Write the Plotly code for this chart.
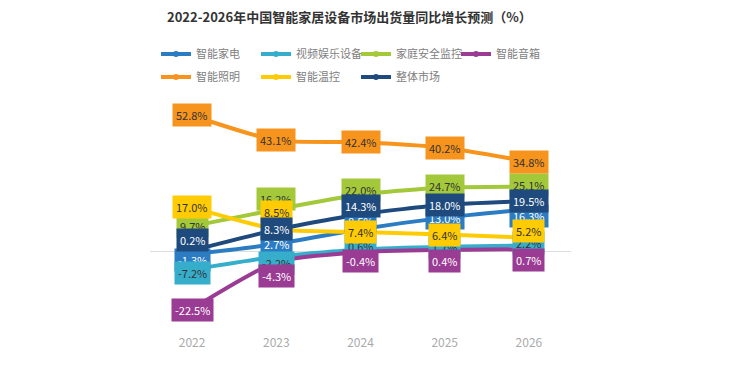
import plotly.graph_objects as go

years = ["2022", "2023", "2024", "2025", "2026"]
series_names = ["智能家电", "视频娱乐设备", "家庭安全监控", "智能音箱", "智能照明", "智能温控", "整体市场"]
s_appliance = [-1.3, 2.7, 8.5, 13.0, 16.3]
s_video = [-7.2, -2.2, 0.6, 1.7, 2.2]
s_security = [9.7, 16.2, 22.0, 24.7, 25.1]
s_speaker = [-22.5, -4.3, -0.4, 0.4, 0.7]
s_lighting = [52.8, 43.1, 42.4, 40.2, 34.8]
s_thermo = [17.0, 8.5, 7.4, 6.4, 5.2]
s_total = [0.2, 8.3, 14.3, 18.0, 19.5]
values = [s_appliance, s_video, s_security, s_speaker, s_lighting, s_thermo, s_total]

colors = ["#2b7cc3", "#36aecb", "#a3c83a", "#9a3b94", "#f7941d", "#ffcb05", "#1e4a7e"]
text_colors = ["#ffffff", "#333333", "#333333", "#ffffff", "#333333", "#333333", "#ffffff"]
legend_ids = ["legend", "legend", "legend", "legend", "legend2", "legend2", "legend2"]
# label pixel offsets (to avoid overlap), positive = up
label_shift = [
    [-6, 0, 8, 0, -7],
    [-4, -6, 3, 0, 2],
    [0, 10, 5, 2, 2],
    [-1, -14, -9, -11, -11],
    [0, 0, 0, 0, 0],
    [0, 17, 0, 0, 7],
    [10, 1, 8, 0, 0],
]

fig = go.Figure()
for name, vals, c, lg in zip(series_names, values, colors, legend_ids):
    fig.add_trace(go.Scatter(
        x=years, y=vals, name=name, mode="lines+markers", legend=lg,
        line=dict(color=c, width=4, shape="spline", smoothing=0.6),
        marker=dict(color=c, size=6),
    ))

for vals, c, tc, shifts in zip(values, colors, text_colors, label_shift):
    for i, (v, sh) in enumerate(zip(vals, shifts)):
        fig.add_annotation(
            x=i, y=v, xref="x", yref="y", text=f"{v:.1f}%", showarrow=False, yshift=sh,
            bgcolor=c, borderpad=3,
            font=dict(size=11, color=tc, family="Noto Sans CJK SC"),
        )

legend_common = dict(orientation="h", xref="container", yref="container",
                     xanchor="left", yanchor="middle",
                     entrywidth=55, entrywidthmode="pixels",
                     font=dict(size=11, color="#808080"), itemwidth=30,
                     bgcolor="rgba(0,0,0,0)")

fig.update_layout(
    width=745, height=369,
    margin=dict(l=142, r=182, t=89, b=49, autoexpand=False),
    paper_bgcolor="white", plot_bgcolor="white",
    font=dict(family="Noto Sans CJK SC", color="#666666"),
    title=dict(text="<b>2022-2026年中国智能家居设备市场出货量同比增长预测（%）</b>",
               x=159 / 745, xanchor="left", y=1 - 9 / 369, yanchor="middle",
               font=dict(size=13, color="#333333")),
    showlegend=True,
    legend=dict(x=148 / 745, y=1 - 46 / 369, **legend_common),
    legend2=dict(x=148 / 745, y=1 - 69 / 369, **legend_common),
    xaxis=dict(type="category", showgrid=False, showline=False, ticks="", zeroline=False,
               tickfont=dict(size=12, color="#aaaaaa"), range=[-0.5, 4.5],
               ticklabelstandoff=6),
    yaxis=dict(range=[-30, 60], showgrid=False, showticklabels=False,
               zeroline=True, zerolinecolor="#dddddd", zerolinewidth=1),
)

fig.write_html("out.html")
